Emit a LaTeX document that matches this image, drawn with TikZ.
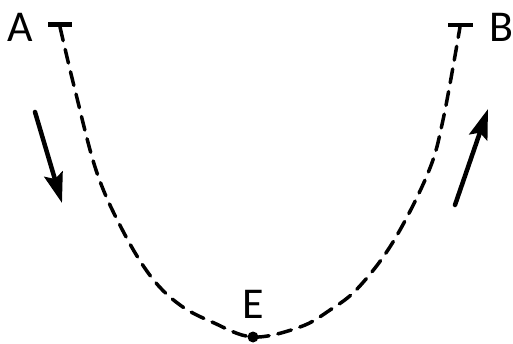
\documentclass[tikz,border=0pt]{standalone}
\usepackage{fontspec}
\setmainfont{Carlito}
\usetikzlibrary{arrows.meta}
\begin{document}
\begin{tikzpicture}[x=1pt,y=-1pt,
  lbl/.style={font=\fontsize{44}{44}\selectfont, inner sep=0pt, text=black},
  bar/.style={line width=4.5pt},
  path/.style={line width=3.5pt, dash pattern=on 14pt off 9pt, line cap=round},
  motion/.style={line width=4.5pt, line cap=round, -{Stealth[length=30pt,width=19pt,inset=5pt]}}]
\useasboundingbox (0,0) rectangle (513,344);
\node[lbl] (A) at (20.5,27.5) {A};
\node[lbl] (B) at (501.5,27.5) {B};
\node[lbl] (Elbl) at (253,304) {E};
\coordinate (a1) at (48,24.5); \coordinate (a2) at (72,24.5);
\coordinate (b1) at (448,25); \coordinate (b2) at (473,25);
\draw[bar] (a1) -- (a2);
\draw[bar] (b1) -- (b2);
\coordinate (E) at (253,337);
\draw[path] plot[smooth, tension=0.6] coordinates {(60,27) (75,90) (97,173) (124,233) (152,278) (180,305) (212,322) (253,337) (300,327) (330,310) (358,288) (393,242) (428,173) (443,120) (460,27)};
\fill (E) circle (5.5pt);
\coordinate (l1) at (35,112); \coordinate (l2) at (62,203);
\coordinate (r1) at (455,205); \coordinate (r2) at (488,109);
\draw[motion] (l1) -- (l2);
\draw[motion] (r1) -- (r2);
\end{tikzpicture}
\end{document}
